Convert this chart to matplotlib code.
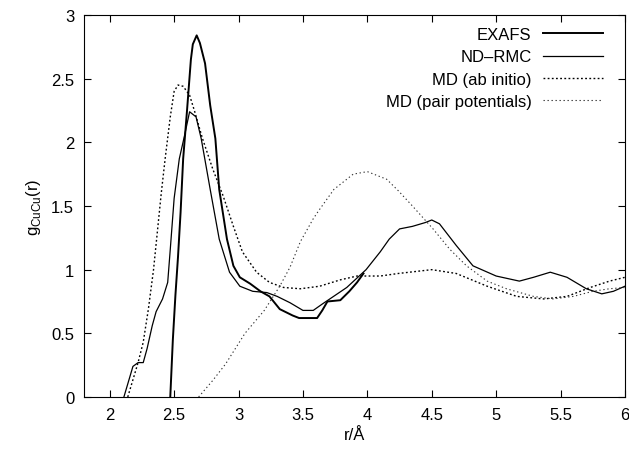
import matplotlib
matplotlib.use("Agg")
import matplotlib.pyplot as plt

plt.rcParams['font.family'] = ['Liberation Sans', 'DejaVu Sans']

# EXAFS
exafs_r = [2.47, 2.49, 2.51, 2.53, 2.55, 2.57, 2.60, 2.63, 2.645, 2.675, 2.70, 2.74, 2.78,
           2.82, 2.85, 2.91, 2.96, 3.01, 3.09, 3.17, 3.24, 3.32, 3.42, 3.47, 3.61, 3.65,
           3.69, 3.79, 3.86, 3.92, 3.97]
exafs_g = [0.0, 0.45, 0.80, 1.10, 1.45, 1.87, 2.25, 2.65, 2.77, 2.84, 2.78, 2.62, 2.29,
           2.03, 1.63, 1.24, 1.03, 0.94, 0.89, 0.83, 0.79, 0.69, 0.64, 0.62, 0.62, 0.68,
           0.75, 0.76, 0.83, 0.90, 0.97]

# ND-RMC
ndrmc_r = [2.11, 2.18, 2.22, 2.26, 2.29, 2.33, 2.36, 2.41, 2.45, 2.47, 2.50, 2.54, 2.58,
           2.62, 2.67, 2.71, 2.78, 2.85, 2.93, 3.01, 3.11, 3.22, 3.30, 3.40, 3.50, 3.58,
           3.65, 3.84, 3.99, 4.10, 4.17, 4.25, 4.35, 4.45, 4.50, 4.56, 4.69, 4.82, 5.00,
           5.18, 5.29, 5.42, 5.55, 5.70, 5.82, 5.91, 6.00]
ndrmc_g = [0.0, 0.24, 0.27, 0.27, 0.38, 0.56, 0.67, 0.77, 0.90, 1.16, 1.56, 1.87, 2.05,
           2.24, 2.20, 2.03, 1.63, 1.24, 0.98, 0.87, 0.83, 0.82, 0.79, 0.74, 0.68, 0.68,
           0.73, 0.86, 1.00, 1.14, 1.24, 1.32, 1.34, 1.37, 1.39, 1.36, 1.19, 1.03, 0.95,
           0.91, 0.94, 0.98, 0.94, 0.85, 0.81, 0.83, 0.87]

# MD (ab initio)
abinit_r = [2.14, 2.22, 2.26, 2.30, 2.34, 2.37, 2.40, 2.43, 2.47, 2.50, 2.53, 2.57, 2.62,
            2.66, 2.72, 2.80, 2.88, 2.96, 3.03, 3.14, 3.24, 3.35, 3.48, 3.63, 3.79, 3.92,
            4.10, 4.24, 4.50, 4.69, 4.93, 5.16, 5.37, 5.55, 5.73, 5.88, 6.00]
abinit_g = [0.0, 0.27, 0.43, 0.69, 1.00, 1.30, 1.60, 1.87, 2.20, 2.40, 2.45, 2.44, 2.37,
            2.24, 2.03, 1.79, 1.58, 1.34, 1.14, 0.98, 0.90, 0.86, 0.85, 0.87, 0.92, 0.95,
            0.95, 0.97, 1.00, 0.97, 0.87, 0.79, 0.77, 0.79, 0.86, 0.91, 0.94]

# MD (pair potentials)
pair_r = [2.69, 2.80, 2.90, 3.05, 3.20, 3.32, 3.40, 3.48, 3.58, 3.62, 3.74, 3.89, 4.00,
          4.15, 4.24, 4.35, 4.51, 4.64, 4.77, 4.93, 5.08, 5.29, 5.44, 5.60, 5.75, 5.88,
          6.00]
pair_g = [0.0, 0.13, 0.26, 0.50, 0.68, 0.87, 1.02, 1.22, 1.40, 1.46, 1.63, 1.75, 1.77,
          1.71, 1.62, 1.50, 1.32, 1.16, 1.03, 0.91, 0.85, 0.79, 0.77, 0.79, 0.83, 0.85,
          0.86]

fig = plt.figure(figsize=(6.29, 4.52), dpi=100)
ax = fig.add_axes([0.1335, 0.1195, 0.8601, 0.8451])

ax.plot(exafs_r, exafs_g, color='black', lw=1.4, label='EXAFS')
ax.plot(ndrmc_r, ndrmc_g, color='black', lw=0.9, label='ND\u2013RMC')
ax.plot(abinit_r, abinit_g, color='black', lw=1.0, linestyle=(0, (1.3, 1.7)),
        label='MD (ab initio)')
ax.plot(pair_r, pair_g, color='#333333', lw=0.8, linestyle=(0, (1.2, 2.4)),
        label='MD (pair potentials)')

ax.set_xlim(1.8, 6)
ax.set_ylim(0, 3)
ax.set_xticks([2, 2.5, 3, 3.5, 4, 4.5, 5, 5.5, 6])
ax.set_xticklabels(['2', '2.5', '3', '3.5', '4', '4.5', '5', '5.5', '6'])
ax.set_yticks([0, 0.5, 1, 1.5, 2, 2.5, 3])
ax.set_yticklabels(['0', '0.5', '1', '1.5', '2', '2.5', '3'])
ax.tick_params(direction='in', top=True, right=True, length=5, width=0.8,
               labelsize=12, pad=7)
for s in ax.spines.values():
    s.set_linewidth(0.8)

ax.set_xlabel('r/\u00c5', fontsize=12, labelpad=4)
ax.set_ylabel('g$_{\\mathregular{CuCu}}$(r)', fontsize=12, labelpad=6)

ax.legend(loc='upper right', frameon=False, markerfirst=False, fontsize=12,
          handlelength=3.6, handletextpad=0.7, labelspacing=0.44,
          borderaxespad=0.1, bbox_to_anchor=(0.975, 0.99))

fig.savefig('out.png', dpi=100)
